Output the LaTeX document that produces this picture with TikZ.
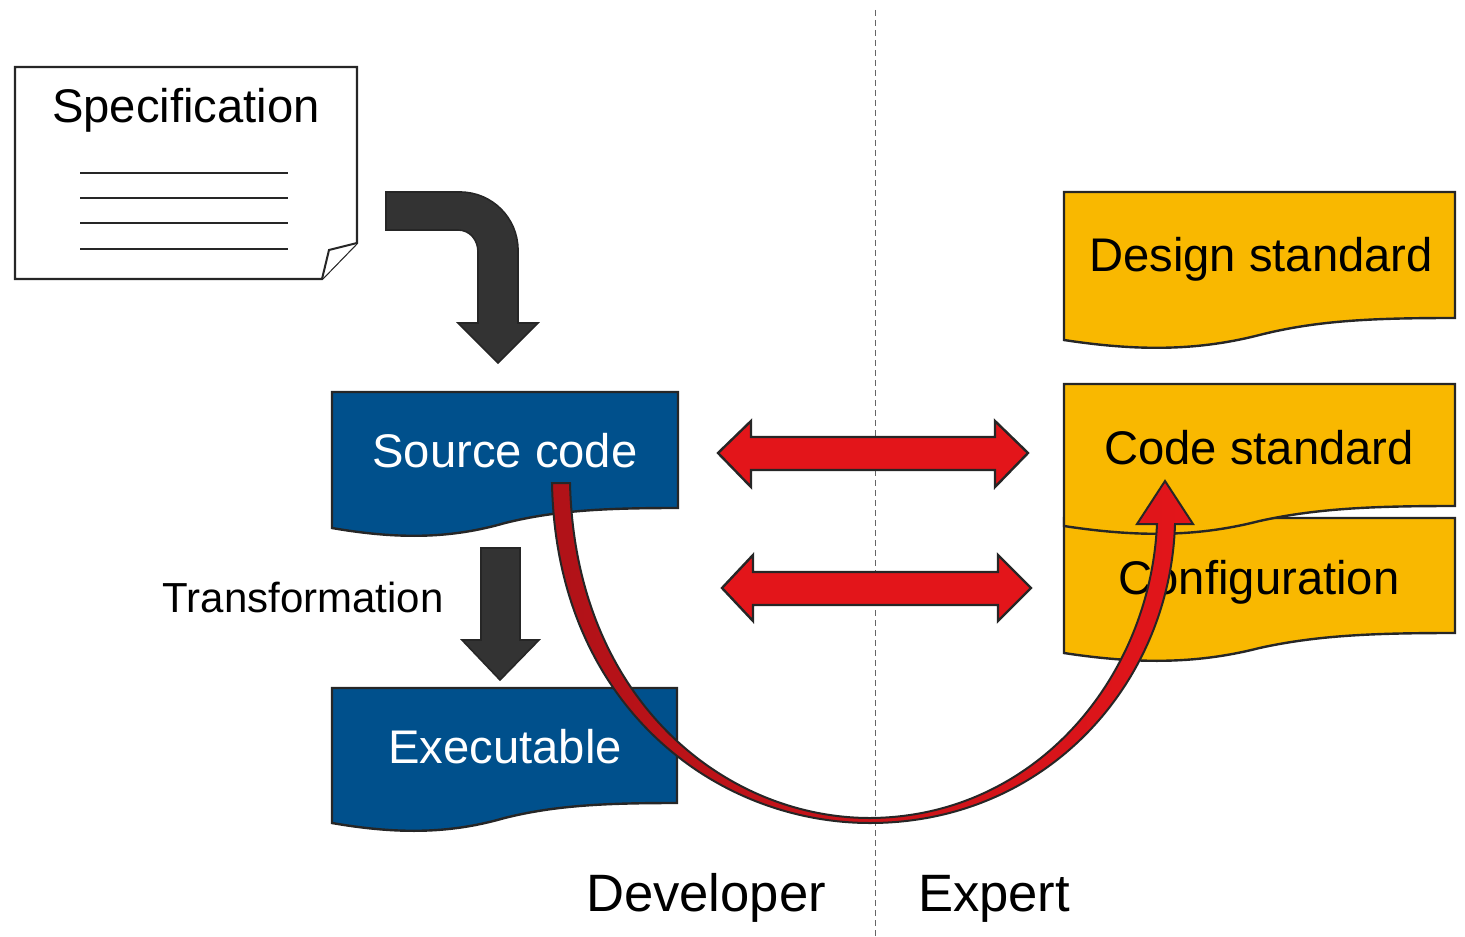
\documentclass[tikz,border=0pt]{standalone}
\usepackage{fontspec}
\setmainfont{Liberation Sans}
\definecolor{docblue}{HTML}{00508C}
\definecolor{docyellow}{HTML}{F9B800}
\definecolor{arrred}{HTML}{E3151A}
\definecolor{arrdark}{HTML}{B01218}
\definecolor{blockgray}{HTML}{333333}
\definecolor{edgegray}{HTML}{262626}
\newcommand\wavedoc[6]{%
 \path[#1] (#3,{#5-#6}) -- (#3,#4) -- (#2,#4) -- (#2,#5)
 .. controls ({#2+0.2*(#3-#2)},{#5+12}) and ({#2+0.35*(#3-#2)},{#5+10}) .. ({#2+0.5*(#3-#2)},{#5-5})
 .. controls ({#2+0.65*(#3-#2)},{#5-#6+2}) and ({#2+0.8*(#3-#2)},{#5-#6}) .. (#3,{#5-#6}) -- cycle;}
\tikzset{
  bluedoc/.style={fill=docblue, draw=edgegray, line width=1.2pt, line join=miter},
  yellowdoc/.style={fill=docyellow, draw=edgegray, line width=1.2pt},
  blockarrow/.style={fill=blockgray, draw=edgegray, line width=0.8pt, line join=miter},
  redarrow/.style={fill=arrred, draw=edgegray, line width=1.2pt, line join=miter},
  lbl/.style={inner sep=0pt, anchor=base, font=\fontsize{23.6}{28}\selectfont},
  biglbl/.style={inner sep=0pt, anchor=base, font=\fontsize{26.3}{31}\selectfont},
  midlbl/.style={inner sep=0pt, anchor=base, font=\fontsize{21}{25}\selectfont},
}
\begin{document}
\begin{tikzpicture}[x=0.5pt, y=-0.5pt]
\useasboundingbox (0,0) rectangle (1465,936);

% divider
\draw[gray!80!black, line width=0.5pt, dash pattern=on 3pt off 2pt] (875,10) -- (875,936);

% specification sheet
\draw[fill=white, draw=edgegray, line width=1.2pt, line join=miter]
  (15,67) -- (357,67) -- (357,243) -- (322,279) -- (15,279) -- cycle;
\draw[fill=white, draw=edgegray, line width=1pt, line join=miter]
  (322,279) -- (329,250) -- (357,243);
\foreach \yy in {173,198,223,249}
  \draw[edgegray, line width=0.7pt] (80,\yy) -- (288,\yy);
\node[lbl] (spec) at (186,123) {Specification};

% bent arrow
\path[blockarrow] (386,192) -- (460,192)
  .. controls (492,192) and (518,218) .. (518,250)
  -- (518,323) -- (538,323) -- (498,363) -- (458,323) -- (478,323) -- (478,252)
  .. controls (478,240) and (470,230) .. (458,230) -- (386,230) -- cycle;

% source code
\wavedoc{bluedoc}{332}{678}{392}{528}{20}
\node[lbl, text=white] (src) at (505,467) {Source code};

% transformation arrow
\path[blockarrow] (481,548) -- (520,548) -- (520,640) -- (539,640) -- (500,680)
  -- (462,640) -- (481,640) -- cycle;
\node[midlbl] (trans) at (303,612) {Transformation};

% executable
\wavedoc{bluedoc}{332}{677}{688}{823}{20}
\node[lbl, text=white] (exe) at (505,763) {Executable};

% yellow documents
\wavedoc{yellowdoc}{1064}{1455}{192}{340}{22}
\node[lbl] (design) at (1261,271) {Design standard};
\wavedoc{yellowdoc}{1064}{1455}{518}{653}{20}
\node[lbl] (config) at (1259,594) {Configuration};
\wavedoc{yellowdoc}{1064}{1455}{384}{526}{20}
\node[lbl] (code) at (1259,464) {Code standard};

% double arrows
\path[redarrow] (718,453) -- (751,421) -- (751,437) -- (995,437) -- (995,421) -- (1028,453)
  -- (995,487) -- (995,470) -- (751,470) -- (751,487) -- cycle;
\path[redarrow] (722,588) -- (753,555) -- (753,572) -- (998,572) -- (998,555) -- (1031,588)
  -- (998,621) -- (998,605) -- (753,605) -- (753,621) -- cycle;

% curved arrow
\path[draw=edgegray, line width=1pt, line join=miter, left color=arrdark, right color=arrred]
  (552,483) .. controls (556,705) and (715,823) .. (870,823)
  .. controls (1045,823) and (1170,685) .. (1175,524)
  -- (1193,524) -- (1165,481) -- (1137,524) -- (1157,524)
  .. controls (1150,678) and (1035,817) .. (870,818)
  .. controls (725,818) and (575,700) .. (570,483) -- cycle;

% roles
\node[biglbl] (dev) at (706,911) {Developer};
\node[biglbl] (exp) at (994,911) {Expert};
\end{tikzpicture}
\end{document}
